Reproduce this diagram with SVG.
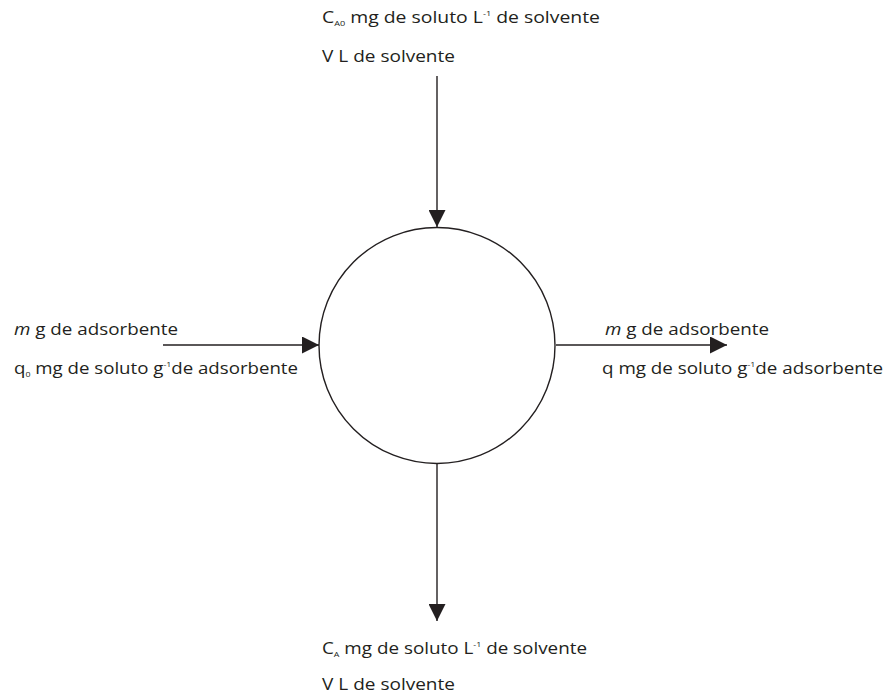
<svg xmlns="http://www.w3.org/2000/svg" width="885" height="696" viewBox="0 0 885 696">
  <style>
    text { font-family: "Open Sans", "Liberation Sans", sans-serif; font-size: 17px; fill: #231f20; }
    .sub { font-size: 8px; }
    .sup { font-size: 8px; }
    .edge { stroke: #231f20; stroke-width: 1.4; fill: none; }
  </style>
  <defs>
    <marker id="arrow" viewBox="0 0 10 10" refX="10" refY="5" markerWidth="17" markerHeight="17" markerUnits="userSpaceOnUse" orient="auto">
      <path d="M0,0 L10,5 L0,10 z" fill="#231f20"/>
    </marker>
  </defs>

  <rect width="885" height="696" fill="#ffffff"/>

  <g id="vessel">
    <circle cx="437" cy="345.5" r="118" fill="none" stroke="#231f20" stroke-width="1.4"/>
  </g>

  <g id="connectors">
    <line class="edge" x1="437" y1="76" x2="437" y2="227" marker-end="url(#arrow)"/>
    <line class="edge" x1="437" y1="464" x2="437" y2="621" marker-end="url(#arrow)"/>
    <line class="edge" x1="163" y1="345" x2="319" y2="345" marker-end="url(#arrow)"/>
    <line class="edge" x1="556" y1="345" x2="727" y2="345" marker-end="url(#arrow)"/>
  </g>

  <g id="feed-solution">
    <text x="322" y="23" textLength="278" lengthAdjust="spacingAndGlyphs">C<tspan class="sub" dy="3">A0</tspan><tspan dy="-3"> mg de soluto L</tspan><tspan class="sup" dy="-7">-1</tspan><tspan dy="7"> de solvente</tspan></text>
    <text x="322" y="62" textLength="133" lengthAdjust="spacingAndGlyphs">V L de solvente</text>
  </g>

  <g id="feed-adsorbent">
    <text x="14" y="335" textLength="164" lengthAdjust="spacingAndGlyphs"><tspan font-style="italic">m</tspan> g de adsorbente</text>
    <text x="14" y="374" textLength="284" lengthAdjust="spacingAndGlyphs">q<tspan class="sub" dy="3">0</tspan><tspan dy="-3"> mg de soluto g</tspan><tspan class="sup" dy="-7">-1</tspan><tspan dy="7">de adsorbente</tspan></text>
  </g>

  <g id="out-adsorbent">
    <text x="605" y="335" textLength="164" lengthAdjust="spacingAndGlyphs"><tspan font-style="italic">m</tspan> g de adsorbente</text>
    <text x="602" y="374" textLength="281" lengthAdjust="spacingAndGlyphs">q mg de soluto g<tspan class="sup" dy="-7">-1</tspan><tspan dy="7">de adsorbente</tspan></text>
  </g>

  <g id="out-solution">
    <text x="322" y="654" textLength="265" lengthAdjust="spacingAndGlyphs">C<tspan class="sub" dy="3">A</tspan><tspan dy="-3"> mg de soluto L</tspan><tspan class="sup" dy="-7">-1</tspan><tspan dy="7"> de solvente</tspan></text>
    <text x="322" y="690" textLength="133" lengthAdjust="spacingAndGlyphs">V L de solvente</text>
  </g>
</svg>
